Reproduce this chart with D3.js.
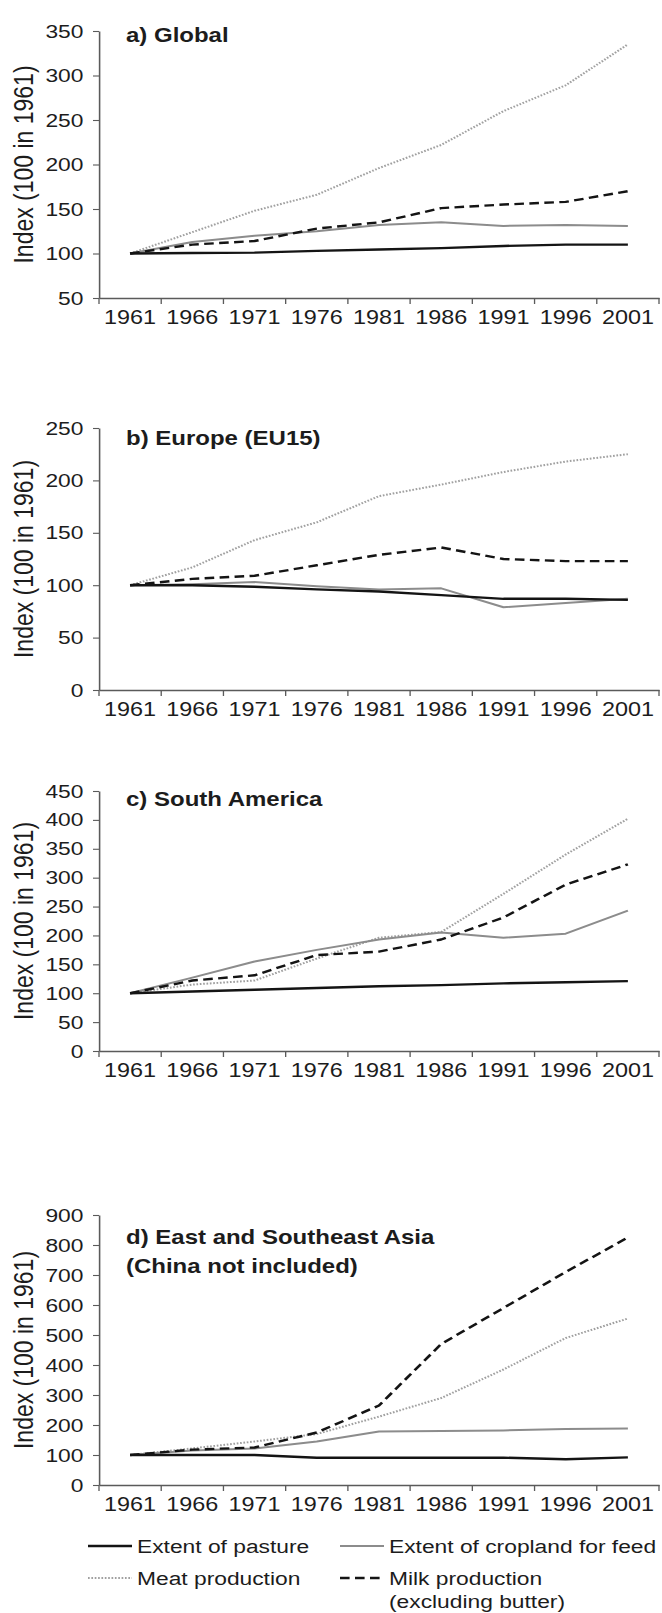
<!DOCTYPE html>
<html>
<head>
<meta charset="utf-8">
<script src="https://cdn.jsdelivr.net/npm/d3@7"></script>
<style>
  html, body { margin: 0; padding: 0; background: #fff; }
  svg { display: block; }
  text { font-family: "Liberation Sans", Arial, Helvetica, sans-serif; fill: #1c1c1c; }
</style>
</head>
<body>
<svg id="chart"></svg>
<script>
// Years on the category axis (one band per five-year step)
const years = ["1961", "1966", "1971", "1976", "1981", "1986", "1991", "1996", "2001"];

// a) Global, index 100 in 1961
const globalPasture  = [100, 100.5, 101, 103, 104.5, 106, 108.5, 110, 110];
const globalCropland = [100, 113, 120, 125, 132, 135, 131, 132, 131];
const globalMeat     = [100, 124, 148, 166, 196, 222, 260, 289, 335];
const globalMilk     = [100, 110, 114, 128, 135, 151, 155, 158, 170];

// b) Europe (EU15)
const europePasture  = [100, 100, 98.5, 96, 94, 90.5, 87, 87, 86];
const europeCropland = [100, 101, 103, 99, 96, 97, 79, 83, 87];
const europeMeat     = [100, 117, 143, 160, 185, 196, 208, 218, 225];
const europeMilk     = [100, 106, 109, 119, 129, 136, 125, 123, 123];

// c) South America
const samericaPasture  = [100, 103, 106, 109, 112, 114, 117, 119, 121];
const samericaCropland = [100, 127, 155, 175, 193, 205, 196, 203, 243];
const samericaMeat     = [100, 115, 122, 160, 196, 206, 272, 340, 402];
const samericaMilk     = [100, 122, 131, 166, 172, 193, 231, 288, 323];

// d) East and Southeast Asia (China not included)
const asiaPasture  = [100, 100, 100, 91, 91, 91, 91, 86, 92];
const asiaCropland = [100, 115, 122, 145, 178, 180, 182, 187, 188];
const asiaMeat     = [100, 122, 145, 170, 228, 290, 385, 490, 555];
const asiaMilk     = [100, 118, 125, 175, 265, 470, 590, 710, 825];

// Y tick labels per panel
const globalTicks   = [50, 100, 150, 200, 250, 300, 350];
const europeTicks   = [0, 50, 100, 150, 200, 250];
const samericaTicks = [0, 50, 100, 150, 200, 250, 300, 350, 400, 450];
const asiaTicks     = [0, 100, 200, 300, 400, 500, 600, 700, 800, 900];

// Series names as shown in the legend
const seriesNames = ["Extent of pasture", "Extent of cropland for feed", "Meat production", "Milk production"];
const yTitle = "Index (100 in 1961)";

// ---- drawing ----
const W = 662, H = 1613;
const SX = 1.2;                 // horizontal stretch of the whole figure
const DW = W / SX;              // drawing width in user units

const svg = d3.select("#chart")
  .attr("width", W).attr("height", H)
  .attr("viewBox", `0 0 ${DW} ${H}`)
  .attr("preserveAspectRatio", "none");

const x = d3.scaleBand().domain(years).range([99 / SX, 659 / SX]).padding(0);
const xc = yr => x(yr) + x.bandwidth() / 2;

const styles = {
  pasture:  { stroke: "#141414", width: 2.4, dash: null },
  cropland: { stroke: "#8c8c8c", width: 2.0, dash: null },
  meat:     { stroke: "#a0a0a0", width: 2.0, dash: "1.4,1.4" },
  milk:     { stroke: "#141414", width: 2.4, dash: "8,4.5" }
};

const panels = [
  { title: ["a) Global"], ticks: globalTicks, top: 31, bottom: 298, titleY: 42,
    series: { meat: globalMeat, cropland: globalCropland, milk: globalMilk, pasture: globalPasture } },
  { title: ["b) Europe (EU15)"], ticks: europeTicks, top: 428, bottom: 690, titleY: 445,
    series: { meat: europeMeat, cropland: europeCropland, milk: europeMilk, pasture: europePasture } },
  { title: ["c) South America"], ticks: samericaTicks, top: 791, bottom: 1051, titleY: 806,
    series: { meat: samericaMeat, cropland: samericaCropland, milk: samericaMilk, pasture: samericaPasture } },
  { title: ["d) East and Southeast Asia", "(China not included)"], ticks: asiaTicks, top: 1215, bottom: 1485, titleY: 1244,
    series: { meat: asiaMeat, cropland: asiaCropland, milk: asiaMilk, pasture: asiaPasture } }
];

const axisColor = "#5a5a5a";

panels.forEach(p => {
  const g = svg.append("g");
  const y = d3.scaleLinear().domain(d3.extent(p.ticks)).range([p.bottom, p.top]);

  // y axis
  const gy = g.append("g")
    .attr("transform", `translate(${x.range()[0]},0)`)
    .call(d3.axisLeft(y).tickValues(p.ticks).tickSize(5).tickSizeOuter(0).tickPadding(8).tickFormat(d3.format("d")));
  gy.select(".domain").attr("stroke", axisColor).attr("stroke-width", 1.3);
  gy.selectAll(".tick line").attr("stroke", axisColor).attr("stroke-width", 1.1);
  gy.selectAll("text").attr("font-size", 19).attr("font-family", null).attr("fill", "#1c1c1c");

  // x axis: labels centred in bands, tick marks on band boundaries
  const gx = g.append("g")
    .attr("transform", `translate(0,${p.bottom})`)
    .call(d3.axisBottom(x).tickSize(0).tickSizeOuter(0).tickPadding(12));
  gx.select(".domain").attr("stroke", axisColor).attr("stroke-width", 1.3);
  gx.selectAll("text").attr("font-size", 19.5).attr("font-family", null).attr("fill", "#1c1c1c");
  const bounds = years.map(yr => x(yr)).concat([x.range()[1]]);
  gx.selectAll("line.bound").data(bounds).join("line")
    .attr("class", "bound")
    .attr("x1", d => d).attr("x2", d => d)
    .attr("y1", 0).attr("y2", 6)
    .attr("stroke", axisColor).attr("stroke-width", 1.1);

  // y axis title
  g.append("text")
    .attr("transform", `translate(${23 / SX},${(p.top + p.bottom) / 2}) rotate(-90)`)
    .attr("text-anchor", "middle")
    .attr("dominant-baseline", "central")
    .attr("font-size", 23)
    .text(yTitle);

  // panel title
  const t = g.append("text")
    .attr("x", 126 / SX).attr("y", p.titleY)
    .attr("font-size", 20).attr("font-weight", "bold");
  p.title.forEach((line, i) => {
    t.append("tspan").attr("x", 126 / SX).attr("dy", i === 0 ? 0 : 29).text(line);
  });

  // series
  const line = d3.line().x((d, i) => xc(years[i])).y(d => y(d));
  ["meat", "cropland", "milk", "pasture"].forEach(k => {
    const st = styles[k];
    g.append("path")
      .datum(p.series[k])
      .attr("d", line)
      .attr("fill", "none")
      .attr("stroke", st.stroke)
      .attr("stroke-width", st.width)
      .attr("stroke-dasharray", st.dash)
      .attr("stroke-linejoin", "round");
  });
});

// legend
const legend = svg.append("g");
const legendItems = [
  { key: "pasture",  label: [seriesNames[0]], col: 0, row: 0 },
  { key: "cropland", label: [seriesNames[1]], col: 1, row: 0 },
  { key: "meat",     label: [seriesNames[2]], col: 0, row: 1 },
  { key: "milk",     label: [seriesNames[3], "(excluding butter)"], col: 1, row: 1 }
];
const colX = [88 / SX, 340 / SX];
const rowY = [1553, 1585];
const swatchW = 44 / SX;
legendItems.forEach(it => {
  const st = styles[it.key];
  const x0 = colX[it.col], yb = rowY[it.row];
  legend.append("line")
    .attr("x1", x0).attr("x2", x0 + swatchW)
    .attr("y1", yb - 7).attr("y2", yb - 7)
    .attr("stroke", st.stroke).attr("stroke-width", st.width)
    .attr("stroke-dasharray", st.dash);
  const t = legend.append("text").attr("x", x0 + swatchW + 5 / SX).attr("y", yb).attr("font-size", 19);
  it.label.forEach((l, i) => t.append("tspan").attr("x", x0 + swatchW + 5 / SX).attr("dy", i === 0 ? 0 : 23).text(l));
});
</script>
</body>
</html>
